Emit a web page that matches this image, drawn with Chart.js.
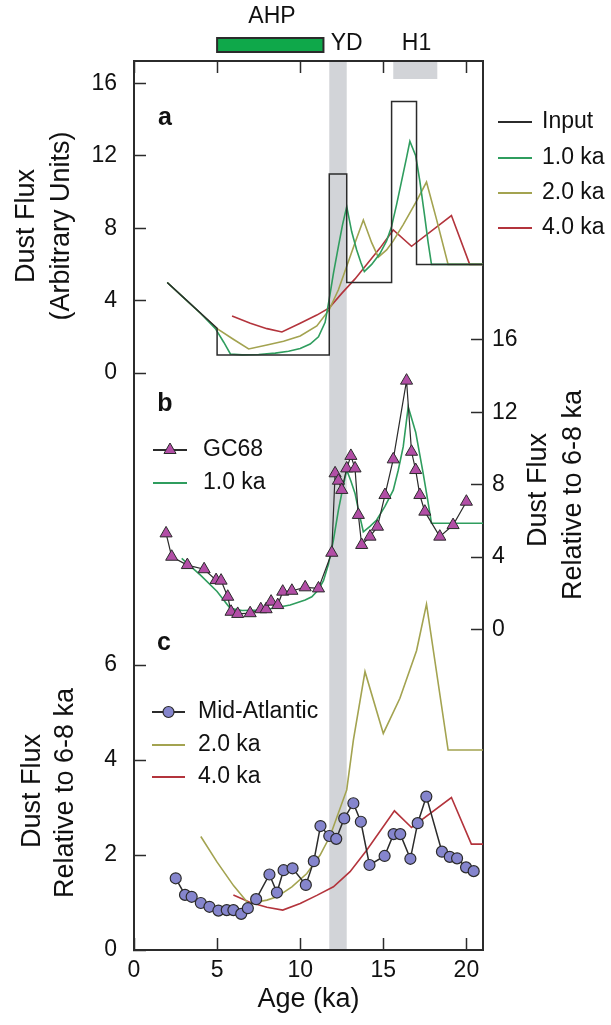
<!DOCTYPE html>
<html>
<head>
<meta charset="utf-8">
<script src="https://cdn.jsdelivr.net/npm/chart.js@4.4.1/dist/chart.umd.min.js"></script>
<style>
  html, body { margin: 0; padding: 0; background: #fff; }
  #wrap { width: 611px; height: 1025px; position: relative; }
</style>
</head>
<body>
<div id="wrap"><canvas id="graphique"></canvas></div>
<script>
// ===============================
// DATA
// ===============================

// x axis (age, ka)
const xTicks = [0, 5, 10, 15, 20];
const aTicks = [0, 4, 8, 12, 16];   // panel a, left
const bTicks = [0, 4, 8, 12, 16];   // panel b, right
const cTicks = [0, 2, 4, 6];        // panel c, left

// shaded intervals / bars (ka)
const ydBand = [11.75, 12.8];
const h1Band = [15.6, 18.25];
const ahpBar = [5, 11.4];

// panel a : input + model responses
const inputAge  = [2, 5, 5, 11.75, 11.75, 12.8, 12.8, 15.5, 15.5, 17, 17, 21];
const inputFlux = [5, 2.47, 1, 1, 11, 11, 5, 5, 15, 15, 6, 6];

const a10Age  = [2, 3, 4, 4.9, 5.4, 5.8, 6.5, 7.5, 8.5, 9.3, 10, 10.6, 11.1, 11.5, 11.75, 12.0, 12.3, 12.55, 12.8, 13.1, 13.4, 13.65, 13.86, 14.3, 14.8, 15.2, 15.5, 15.8, 16.1, 16.4, 16.6, 16.95, 17.2, 17.5, 17.7, 17.9, 21];
const a10Flux = [5, 4.15, 3.3, 2.45, 1.7, 1.05, 1.0, 1.02, 1.1, 1.2, 1.35, 1.6, 2.0, 2.8, 4.1, 5.5, 7.0, 8.2, 9.2, 7.8, 6.8, 6.1, 5.6, 6.0, 6.6, 7.3, 8.1, 9.3, 10.6, 11.9, 12.8, 12.0, 10.6, 8.6, 7.2, 6.0, 6.0];

const a20Age  = [2, 3, 4, 5, 6, 6.9, 8, 9, 10, 11, 11.75, 12.3, 12.8, 13.3, 13.8, 14.3, 14.7, 15.2, 15.6, 16.2, 17.0, 17.6, 18.2, 18.9, 21];
const a20Flux = [5, 4.15, 3.3, 2.45, 1.85, 1.33, 1.55, 1.75, 2.05, 2.6, 3.5, 4.6, 5.9, 7.2, 8.45, 7.2, 6.4, 6.8, 7.3, 8.2, 9.5, 10.55, 8.5, 6.0, 6.0];

const a40Age  = [5.9, 7, 8, 8.9, 10, 11, 11.75, 12.5, 13.3, 14, 14.8, 15.6, 16.7, 19.1, 20.2, 21];
const a40Flux = [3.15, 2.75, 2.45, 2.27, 2.75, 3.2, 3.6, 4.4, 5.2, 6.0, 6.9, 7.9, 7.0, 8.7, 6.0, 6.0];

// panel b : GC68 record + 1.0 ka response
const gcAge  = [1.93, 2.27, 3.21, 4.22, 4.94, 5.24, 5.64, 5.84, 6.24, 6.99, 7.63, 7.95, 8.25, 8.65, 8.95, 9.5, 10.3, 11.1, 11.9, 12.1, 12.3, 12.5, 12.8, 13.05, 13.3, 13.5, 13.7, 14.2, 14.65, 15.1, 15.6, 16.4, 16.7, 16.95, 17.2, 17.5, 18.4, 19.2, 20.0];
const gcFlux = [5.31, 4.02, 3.56, 3.33, 2.73, 2.70, 1.81, 0.98, 0.86, 0.90, 1.12, 1.12, 1.54, 1.35, 2.09, 2.14, 2.33, 2.27, 4.24, 8.63, 8.22, 7.71, 8.9, 9.59, 8.9, 6.33, 4.67, 5.13, 5.68, 7.43, 9.4, 13.75, 9.82, 8.81, 7.43, 6.51, 5.13, 5.77, 7.06];

const b10Age  = [2.87, 4, 5, 5.78, 6.5, 7.8, 9.4, 10.3, 10.7, 11.1, 11.4, 11.7, 12.0, 12.3, 12.6, 12.8, 13.05, 13.3, 13.55, 13.8, 14.2, 14.6, 15.1, 15.6, 15.9, 16.2, 16.5, 16.95, 17.4, 17.7, 17.9, 21];
const b10Flux = [3.93, 3.0, 2.1, 1.17, 1.05, 1.08, 1.35, 1.63, 1.81, 2.2, 2.7, 3.6, 4.94, 6.6, 7.98, 8.81, 8.2, 7.52, 6.4, 5.4, 5.7, 6.05, 6.8, 7.7, 8.8, 10.1, 12.3, 10.9, 8.63, 7.0, 5.87, 5.87];

// panel c : Mid-Atlantic record + 2.0 / 4.0 ka responses
const maAge  = [2.51, 3.07, 3.47, 4.02, 4.54, 5.08, 5.58, 5.98, 6.45, 6.85, 7.35, 8.15, 8.6, 9.0, 9.54, 10.34, 10.82, 11.22, 11.75, 12.17, 12.65, 13.2, 13.65, 14.17, 15.08, 15.62, 16.02, 16.63, 17.07, 17.59, 18.53, 19.0, 19.44, 19.98, 20.44];
const maFlux = [1.51, 1.16, 1.12, 0.99, 0.91, 0.83, 0.84, 0.84, 0.76, 0.88, 1.07, 1.59, 1.21, 1.68, 1.72, 1.37, 1.87, 2.61, 2.4, 2.34, 2.77, 3.09, 2.7, 1.79, 1.98, 2.44, 2.44, 1.92, 2.67, 3.23, 2.07, 1.96, 1.93, 1.74, 1.66];

const c20Age  = [4.02, 5, 6, 6.88, 8, 8.6, 9.5, 10.4, 11.2, 11.8, 12.8, 13.2, 13.9, 15.0, 16.0, 17.0, 17.6, 18.9, 21];
const c20Flux = [2.39, 1.85, 1.35, 0.98, 1.05, 1.12, 1.33, 1.61, 2.0, 2.4, 3.37, 4.42, 5.86, 4.56, 5.3, 6.3, 7.28, 4.21, 4.21];

const c40Age  = [5.98, 7, 8, 8.95, 10, 11, 12, 13, 14, 15.67, 16.7, 19.1, 20.3, 21];
const c40Flux = [1.16, 1.0, 0.9, 0.84, 0.98, 1.15, 1.33, 1.65, 2.1, 2.93, 2.58, 3.21, 2.23, 2.23];

// ===============================
// STYLE / LAYOUT
// ===============================
const FONT = "'Liberation Sans', Arial, sans-serif";
const INK = '#2b2b2b';
const GREEN = '#2f9d5e';
const OLIVE = '#a3a350';
const RED = '#b3343c';
const TRI_FILL = '#b24ea6';
const DOT_FILL = '#8585cd';
const BAND = '#d2d4d8';

const TOP = 61, BOTTOM = 950, LEFT = 134, RIGHT = 483;
// panel pixel placement: zero line and pixels per unit
const aZero = 373, aUnit = 18.1;
const bZero = 629.5, bUnit = 18.1;
const cZero = 950, cUnit = 47.5;

// the left axis carries both panel c and panel a ticks:
// a panel-a value is placed where the hidden panel-a scale would put it
const aOnC = (a) => (cZero - aZero + a * aUnit) / cUnit;
const leftTickVals = cTicks.concat(aTicks.map(aOnC));
const leftTickLabels = cTicks.concat(aTicks).map(String);

function pts(ages, vals) {
  return ages.map((a, i) => ({ x: a, y: vals[i] }));
}
function fixTicks(list) {
  return (scale) => { scale.ticks = list.map(v => ({ value: v })); };
}

const tickGrid = { drawOnChartArea: false, tickLength: -12, tickWidth: 1.5, tickColor: INK };
const axisBorder = { color: INK, width: 2 };
const tickFont = { family: FONT, size: 23 };

// ===============================
// DRAWING HELPERS (legends, labels, bands)
// ===============================
function rotText(ctx, txt, x, y) {
  ctx.save();
  ctx.translate(x, y);
  ctx.rotate(-Math.PI / 2);
  ctx.fillText(txt, 0, 0);
  ctx.restore();
}
function triangle(ctx, x, y, r) {
  ctx.beginPath();
  ctx.moveTo(x, y - r);
  ctx.lineTo(x + r * Math.sin(Math.PI * 2 / 3), y - r * Math.cos(Math.PI * 2 / 3));
  ctx.lineTo(x + r * Math.sin(Math.PI * 4 / 3), y - r * Math.cos(Math.PI * 4 / 3));
  ctx.closePath();
  ctx.fillStyle = TRI_FILL;
  ctx.fill();
  ctx.lineWidth = 1;
  ctx.strokeStyle = INK;
  ctx.stroke();
}
function dot(ctx, x, y, r) {
  ctx.beginPath();
  ctx.arc(x, y, r, 0, Math.PI * 2);
  ctx.fillStyle = DOT_FILL;
  ctx.fill();
  ctx.lineWidth = 1.2;
  ctx.strokeStyle = INK;
  ctx.stroke();
}
function legendRow(ctx, x0, x1, tx, y, color, label, marker) {
  ctx.strokeStyle = color;
  ctx.lineWidth = 2;
  ctx.beginPath();
  ctx.moveTo(x0, y);
  ctx.lineTo(x1, y);
  ctx.stroke();
  if (marker) marker(ctx, (x0 + x1) / 2, y);
  ctx.fillStyle = '#111';
  ctx.fillText(label, tx, y);
}

const extras = {
  id: 'extras',
  beforeDatasetsDraw(chart) {
    const { ctx, chartArea: ca, scales: { x } } = chart;
    ctx.save();
    ctx.fillStyle = BAND;
    const y1 = x.getPixelForValue(ydBand[0]), y2 = x.getPixelForValue(ydBand[1]);
    ctx.fillRect(y1, ca.top + 1, y2 - y1, ca.bottom - ca.top - 2);
    const h1 = x.getPixelForValue(h1Band[0]), h2 = x.getPixelForValue(h1Band[1]);
    ctx.fillRect(h1, ca.top + 1, h2 - h1, 17);
    ctx.restore();
  },
  afterDraw(chart) {
    const { ctx, scales: { x } } = chart;
    ctx.save();
    // AHP bar + period labels
    const b1 = x.getPixelForValue(ahpBar[0]), b2 = x.getPixelForValue(ahpBar[1]);
    ctx.fillStyle = '#0fa84a';
    ctx.fillRect(b1, 38, b2 - b1, 14);
    ctx.lineWidth = 2;
    ctx.strokeStyle = INK;
    ctx.strokeRect(b1, 38, b2 - b1, 14);

    ctx.fillStyle = '#111';
    ctx.textBaseline = 'middle';
    ctx.textAlign = 'center';
    ctx.font = `23px ${FONT}`;
    ctx.fillText('AHP', x.getPixelForValue(8.3), 17);
    ctx.fillText('YD', x.getPixelForValue(12.8), 44);
    ctx.fillText('H1', x.getPixelForValue(17.0), 44);

    // panel letters
    ctx.font = `bold 25px ${FONT}`;
    ctx.fillText('a', 165, 118);
    ctx.fillText('b', 165, 404);
    ctx.fillText('c', 164, 643);

    // axis titles
    ctx.font = `27px ${FONT}`;
    rotText(ctx, 'Dust Flux', 27, 226);
    rotText(ctx, '(Arbitrary Units)', 62, 226);
    rotText(ctx, 'Dust Flux', 33, 791);
    rotText(ctx, 'Relative to 6-8 ka', 66, 793);
    rotText(ctx, 'Dust Flux', 539, 490);
    rotText(ctx, 'Relative to 6-8 ka', 574, 495);

    // legends
    ctx.font = `23px ${FONT}`;
    ctx.textAlign = 'left';
    legendRow(ctx, 498, 532, 542, 122, INK, 'Input');
    legendRow(ctx, 498, 532, 542, 158, GREEN, '1.0 ka');
    legendRow(ctx, 498, 532, 542, 193, OLIVE, '2.0 ka');
    legendRow(ctx, 498, 532, 542, 228, RED, '4.0 ka');

    legendRow(ctx, 153, 187, 203, 450, INK, 'GC68', (c, px, py) => triangle(c, px, py, 7));
    legendRow(ctx, 153, 187, 203, 483, GREEN, '1.0 ka');

    legendRow(ctx, 152, 185, 198, 712, INK, 'Mid-Atlantic', (c, px, py) => dot(c, px, py, 5.5));
    legendRow(ctx, 152, 185, 198, 745, OLIVE, '2.0 ka');
    legendRow(ctx, 152, 185, 198, 777, RED, '4.0 ka');
    ctx.restore();
  }
};

// ===============================
// CHART
// ===============================
function createChart() {
  const ctx = document.getElementById('graphique');
  if (!ctx) return;

  const line = (data, axis, color, width) => ({
    data, yAxisID: axis, borderColor: color, borderWidth: width,
    pointRadius: 0, fill: false, tension: 0
  });

  new Chart(ctx, {
    type: 'line',
    data: {
      datasets: [
        {
          label: 'GC68', data: pts(gcAge, gcFlux), yAxisID: 'yB',
          borderColor: INK, borderWidth: 1.2, tension: 0,
          pointStyle: 'triangle', pointRadius: 7,
          pointBackgroundColor: TRI_FILL, pointBorderColor: INK, pointBorderWidth: 1
        },
        {
          label: 'Mid-Atlantic', data: pts(maAge, maFlux), yAxisID: 'yC',
          borderColor: INK, borderWidth: 1.5, tension: 0,
          pointStyle: 'circle', pointRadius: 5.5,
          pointBackgroundColor: DOT_FILL, pointBorderColor: INK, pointBorderWidth: 1.2
        },
        line(pts(inputAge, inputFlux), 'yA', INK, 1.5),
        line(pts(a10Age, a10Flux), 'yA', GREEN, 1.6),
        line(pts(a20Age, a20Flux), 'yA', OLIVE, 1.6),
        line(pts(a40Age, a40Flux), 'yA', RED, 1.6),
        line(pts(b10Age, b10Flux), 'yB', GREEN, 1.6),
        line(pts(c20Age, c20Flux), 'yC', OLIVE, 1.6),
        line(pts(c40Age, c40Flux), 'yC', RED, 1.6)
      ]
    },
    options: {
      responsive: true,
      maintainAspectRatio: false,
      animation: false,
      layout: { autoPadding: false, padding: { top: TOP, left: 0, right: 0, bottom: 0 } },
      plugins: { legend: { display: false }, tooltip: { enabled: false } },
      scales: {
        x: {
          type: 'linear', position: 'bottom', min: 0, max: 21,
          afterBuildTicks: fixTicks(xTicks),
          ticks: { font: tickFont, color: '#111', padding: 19, autoSkip: false, maxRotation: 0 },
          grid: tickGrid, border: axisBorder,
          title: { display: true, text: 'Age (ka)', color: '#111', font: { family: FONT, size: 27 }, padding: { top: 0, bottom: 9 } },
          afterFit: (s) => { s.height = 1025 - BOTTOM; }
        },
        xTop: {
          type: 'linear', position: 'top', min: 0, max: 21,
          afterBuildTicks: fixTicks(xTicks),
          ticks: { display: false },
          grid: tickGrid, border: axisBorder,
          afterFit: (s) => { s.height = 0; }
        },
        // panel a scale: used by the data, its ticks are shown on the left axis
        yA: {
          type: 'linear', position: 'left', display: false,
          min: -(BOTTOM - aZero) / aUnit, max: (aZero - TOP) / aUnit
        },
        yC: {
          type: 'linear', position: 'left',
          min: -(BOTTOM - cZero) / cUnit, max: (cZero - TOP) / cUnit,
          afterBuildTicks: fixTicks(leftTickVals),
          ticks: {
            font: tickFont, color: '#111', padding: 29, autoSkip: false,
            callback: (v, i) => leftTickLabels[i]
          },
          grid: tickGrid, border: axisBorder,
          afterFit: (s) => { s.width = LEFT; }
        },
        yB: {
          type: 'linear', position: 'right',
          min: -(BOTTOM - bZero) / bUnit, max: (bZero - TOP) / bUnit,
          afterBuildTicks: fixTicks(bTicks),
          ticks: { font: tickFont, color: '#111', padding: 21, autoSkip: false },
          grid: tickGrid, border: axisBorder,
          afterFit: (s) => { s.width = 611 - RIGHT; }
        }
      }
    },
    plugins: [extras]
  });
}

document.addEventListener('DOMContentLoaded', createChart);
</script>
</body>
</html>
